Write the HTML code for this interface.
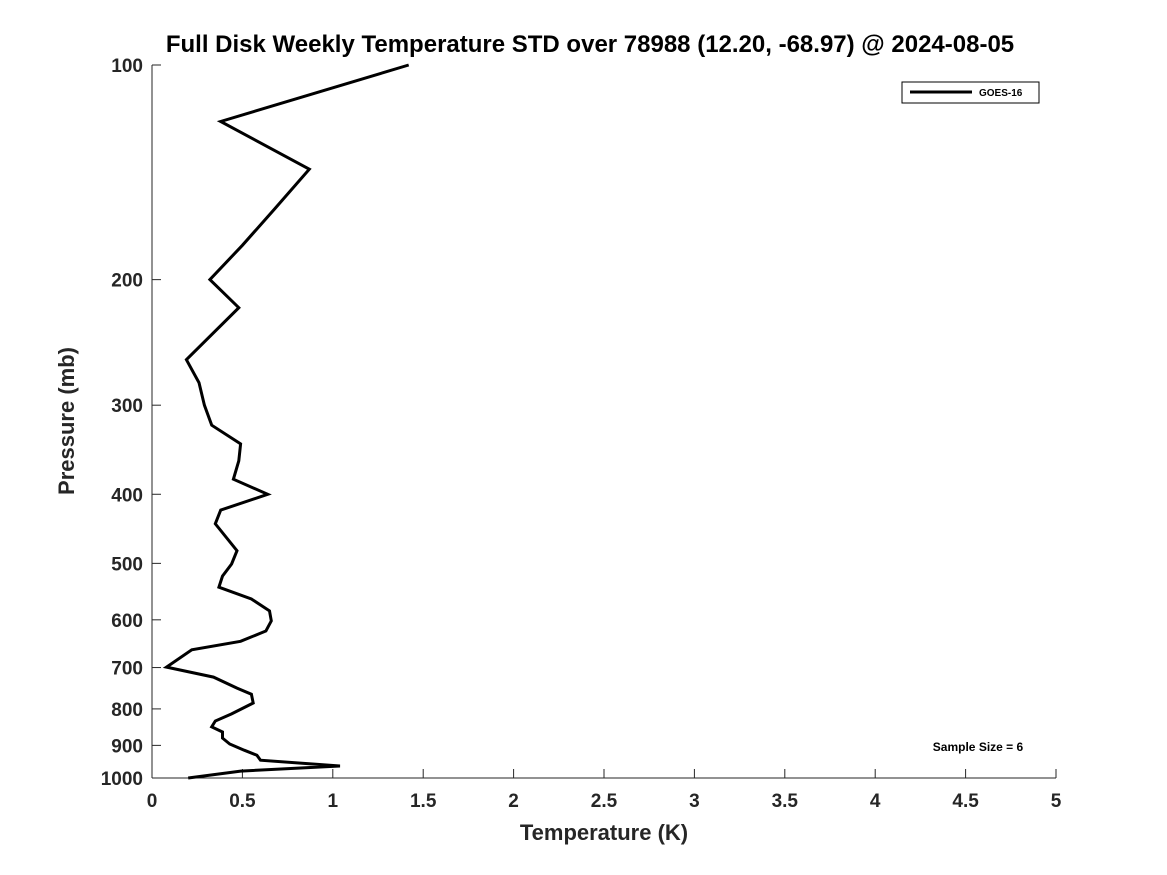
<!DOCTYPE html>
<html><head><meta charset="utf-8"><style>
html,body{margin:0;padding:0;background:#fff;}
svg{display:block;font-family:"Liberation Sans","DejaVu Sans",sans-serif;}
</style></head><body>
<svg id="chart" width="1167" height="875" viewBox="0 0 1167 875">
<rect width="1167" height="875" fill="#fff"/>
<text x="590" y="52" text-anchor="middle" font-size="24" font-weight="bold" fill="#000">Full Disk Weekly Temperature STD over 78988 (12.20, -68.97) @ 2024-08-05</text>
<g id="axes"></g>
<text x="604" y="840" text-anchor="middle" font-size="22" font-weight="bold" fill="#262626">Temperature (K)</text>
<text transform="translate(74,421) rotate(-90)" text-anchor="middle" font-size="22" font-weight="bold" fill="#262626">Pressure (mb)</text>
<g>
<rect x="902" y="82" width="137" height="21" fill="#fff" stroke="#000" stroke-width="1"/>
<line x1="910" y1="92" x2="972" y2="92" stroke="#000" stroke-width="3"/>
<text x="979" y="96" font-size="10" font-weight="bold">GOES-16</text>
</g>
<text x="978" y="751" text-anchor="middle" font-size="12" font-weight="bold">Sample Size = 6</text>
</svg>
<script>
const pressures=[100,120,140,159,179,200,219,259,279,300,320,340,359,381,400,421,440,480,501,521,540,561,583,602,622,643,661,699,722,748,763,785,813,832,848,862,879,896,914,929,944,962,978,1000];
const goes16Std=[1.42,0.38,0.87,0.68,0.50,0.32,0.48,0.19,0.26,0.29,0.33,0.49,0.48,0.45,0.64,0.38,0.35,0.47,0.44,0.39,0.37,0.55,0.65,0.66,0.63,0.49,0.22,0.08,0.34,0.47,0.55,0.56,0.44,0.35,0.33,0.39,0.39,0.43,0.51,0.58,0.60,1.04,0.49,0.20];
const xTicks=[0,0.5,1,1.5,2,2.5,3,3.5,4,4.5,5];
const xTickLabels=["0","0.5","1","1.5","2","2.5","3","3.5","4","4.5","5"];
const yTicks=[100,200,300,400,500,600,700,800,900,1000];
const yTickLabels=["100","200","300","400","500","600","700","800","900","1000"];

const X0=152,X1=1056,Y0=65,Y1=778;
function xScale(v){return X0+(v-0)/(5-0)*(X1-X0);}
function yScale(p){return Y0+(Math.log10(p)-2)/(1)*(Y1-Y0);}
const NS="http://www.w3.org/2000/svg";
const svg=document.getElementById('chart');
const axes=document.getElementById('axes');
function mk(tag,attrs,parent){const e=document.createElementNS(NS,tag);for(const k in attrs)e.setAttribute(k,attrs[k]);(parent||axes).appendChild(e);return e;}

const xl=mk('line',{x1:X0,y1:Y1,x2:X1,y2:Y1,stroke:'#262626','stroke-width':1});


const yl=mk('line',{x1:X0,y1:Y0,x2:X0,y2:Y1,stroke:'#262626','stroke-width':1});



xTicks.forEach((v,i)=>{
  const x=xScale(v);
  const t=mk('line',{x1:x,y1:Y1,x2:x,y2:Y1-9,stroke:'#262626','stroke-width':1});
  
  
  const l=mk('text',{x:x,y:807,'text-anchor':'middle','font-size':19,'font-weight':'bold',fill:'#262626'});
  
  
  l.textContent=xTickLabels[i];
});
yTicks.forEach((p,i)=>{
  const y=yScale(p);
  const t=mk('line',{x1:X0,y1:y,x2:X0+9,y2:y,stroke:'#262626','stroke-width':1});
  
  
  const l=mk('text',{x:143,y:y+7,'text-anchor':'end','font-size':19,'font-weight':'bold',fill:'#262626'});
  
  
  l.textContent=yTickLabels[i];
});
const pts=pressures.map((p,i)=>xScale(goes16Std[i]).toFixed(1)+','+yScale(p).toFixed(1)).join(' ');
const line=mk('polyline',{points:pts,fill:'none',stroke:'#000','stroke-width':3,'stroke-linejoin':'miter'});


</script>
</body></html>
